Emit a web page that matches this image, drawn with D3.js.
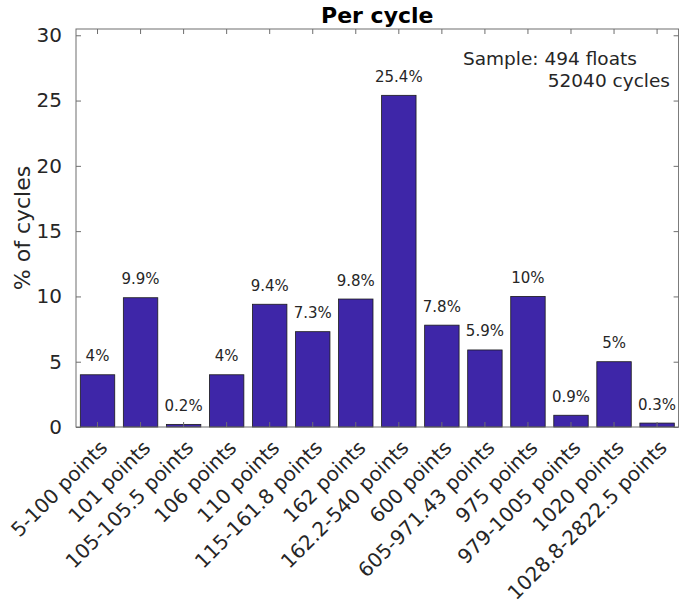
<!DOCTYPE html>
<html><head><meta charset="utf-8">
<script src="https://cdn.jsdelivr.net/npm/d3@7"></script>
<style>body{margin:0;background:#fff}svg{display:block}text{font-family:"DejaVu Sans",sans-serif}</style>
</head><body>
<svg id="c" width="679" height="608"></svg>
<script>
const categories = ["5-100 points","101 points","105-105.5 points","106 points","110 points","115-161.8 points","162 points","162.2-540 points","600 points","605-971.43 points","975 points","979-1005 points","1020 points","1028.8-2822.5 points"];
const values = [4, 9.9, 0.2, 4, 9.4, 7.3, 9.8, 25.4, 7.8, 5.9, 10, 0.9, 5, 0.3];
const yTicks = [0, 5, 10, 15, 20, 25, 30];
const titleText = "Per cycle";
const yLabel = "% of cycles";
const noteLines = ["Sample: 494 floats", "52040 cycles"];

const svg = d3.select("#c");
const L = 76, R = 678.6, T = 29, B = 427;
const x = d3.scaleBand().domain(categories).range([L, R]).paddingInner(0.2).paddingOuter(0.1);
const y = d3.scaleLinear().domain([0, d3.max(values) * 1.2]).range([B, T]);
const txt = "#262626", axc = "#6e6e6e";

// bars
svg.append("g").selectAll("rect").data(values).join("rect")
  .attr("x", (d, i) => x(categories[i]))
  .attr("width", x.bandwidth())
  .attr("y", d => y(d))
  .attr("height", d => B - y(d))
  .attr("fill", "#3e26a8")
  .attr("stroke", "#1a1a1a").attr("stroke-width", 0.8);

// value labels
svg.append("g").selectAll("text").data(values).join("text")
  .attr("x", (d, i) => x(categories[i]) + x.bandwidth() / 2)
  .attr("y", d => y(d) - 13.5)
  .attr("text-anchor", "middle")
  .attr("font-size", 15).attr("fill", txt)
  .text(d => d + "%");

// box
svg.append("rect").attr("x", L).attr("y", T).attr("width", R - L).attr("height", B - T)
  .attr("fill", "none").attr("stroke", axc).attr("stroke-width", 1);

// axes (inward ticks)
const yl = svg.append("g").attr("transform", `translate(${L},0)`)
  .call(d3.axisLeft(y).tickValues(yTicks).tickSize(-5).tickPadding(14).tickFormat(d3.format("d")));
const yr = svg.append("g").attr("transform", `translate(${R},0)`)
  .call(d3.axisRight(y).tickValues(yTicks).tickSize(-5).tickFormat(""));
const xb = svg.append("g").attr("transform", `translate(0,${B})`)
  .call(d3.axisBottom(x).tickSize(-5).tickFormat(""));
const xt = svg.append("g").attr("transform", `translate(0,${T})`)
  .call(d3.axisTop(x).tickSize(-5).tickFormat(""));
[yl, yr, xb, xt].forEach(g => {
  g.select(".domain").remove();
  g.selectAll("line").attr("stroke", axc);
});
yl.selectAll("text").attr("font-size", 20).attr("fill", txt).attr("font-family", "DejaVu Sans");

// x tick labels rotated
svg.append("g").selectAll("text").data(categories).join("text")
  .attr("transform", d => `translate(${x(d) + x.bandwidth() / 2 + 11},${B + 22}) rotate(-45)`)
  .attr("text-anchor", "end")
  .attr("font-size", 20).attr("fill", txt)
  .text(d => d);

// title
svg.append("text").attr("x", (L + R) / 2).attr("y", 23).attr("text-anchor", "middle")
  .attr("font-size", 22).attr("font-weight", "bold").attr("fill", "#000").text(titleText);

// y label
svg.append("text").attr("transform", `translate(30,${(T + B) / 2}) rotate(-90)`)
  .attr("text-anchor", "middle").attr("font-size", 22).attr("fill", txt).text(yLabel);

// annotation
svg.append("text").attr("x", 463).attr("y", 65).attr("font-size", 18.5).attr("fill", txt).text(noteLines[0]);
svg.append("text").attr("x", 670).attr("y", 87).attr("text-anchor", "end").attr("font-size", 18.5).attr("fill", txt).text(noteLines[1]);
</script>
</body></html>
